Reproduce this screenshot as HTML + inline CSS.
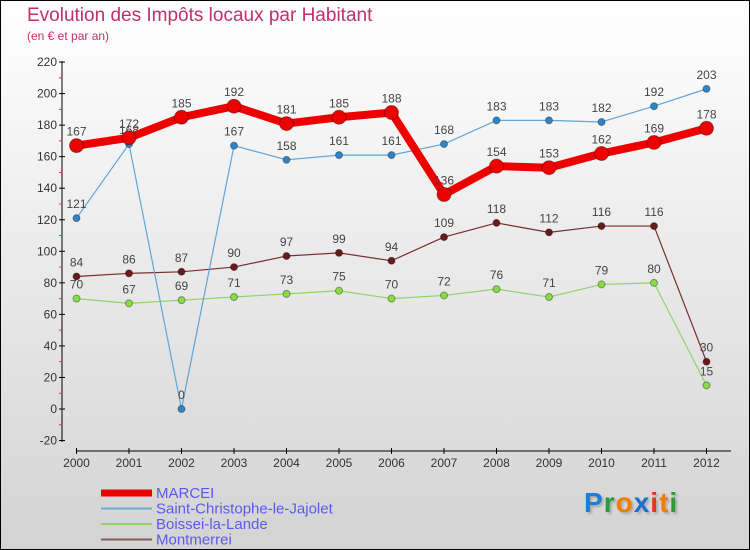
<!DOCTYPE html>
<html><head><meta charset="utf-8"><style>
body{margin:0}
#wrap{position:relative;width:748px;height:548px;border:1px solid #000;background:linear-gradient(#ffffff,#d3d3d3);font-family:"Liberation Sans",sans-serif;overflow:hidden}
.t{position:absolute;color:#c0306a}
</style></head><body>
<div id="wrap">
<div class="t" style="left:26px;top:4px;font-size:19px">Evolution des Impôts locaux par Habitant</div>
<div class="t" style="left:26px;top:28px;font-size:12px">(en € et par an)</div>
<svg id="svg" width="748" height="548" style="position:absolute;left:0;top:0"></svg>
<div style="position:absolute;left:583px;top:486px;font-size:28px;font-weight:bold;letter-spacing:1px;text-shadow:2px 2px 2px #aaa"><span style="color:#1a7fd4">P</span><span style="color:#2a9a3a">r</span><span style="color:#f07c00">o</span><span style="color:#1a6fd0">x</span><span style="color:#e8301e">i</span><span style="color:#f07c00">t</span><span style="color:#2a9a3a">i</span></div>
</div>
<script>
const years=[2000,2001,2002,2003,2004,2005,2006,2007,2008,2009,2010,2011,2012];
const marcei=[167,172,185,192,181,185,188,136,154,153,162,169,178];
const stchristophe=[121,168,0,167,158,161,161,168,183,183,182,192,203];
const boissei=[70,67,69,71,73,75,70,72,76,71,79,80,15];
const montmerrei=[84,86,87,90,97,99,94,109,118,112,116,116,30];
const yTicks=[-20,0,20,40,60,80,100,120,140,160,180,200,220];
const svg=document.getElementById('svg');const NS='http://www.w3.org/2000/svg';
const X=i=>75.5+i*52.5;const Y=v=>408-v*1.577;
function mk(tag,a,p){const e=document.createElementNS(NS,tag);for(const k in a)e.setAttribute(k,a[k]);(p||svg).appendChild(e);return e;}
// axes
let ax=mk('line',{x1:61,y1:60,x2:61,y2:441,stroke:'#000'});


let xa=mk('line',{x1:75,y1:450,x2:730,y2:450,stroke:'#000'});


yTicks.forEach((v,i)=>{
 mk('line',{x1:58,y1:Y(v),x2:64,y2:Y(v),stroke:'#000'});
 if(i<yTicks.length-1)mk('line',{x1:58,y1:Y(v+10),x2:61,y2:Y(v+10),stroke:'#e33'});
 const t=mk('text',{x:56,y:Y(v)+4,'text-anchor':'end','font-size':12,fill:'#333'});t.textContent=v;
 
 
});
years.forEach((y,i)=>{
 mk('line',{x1:X(i),y1:447,x2:X(i),y2:453,stroke:'#000'});
 const t=mk('text',{x:X(i),y:466,'text-anchor':'middle','font-size':12,fill:'#333'});t.textContent=y;
 
 
});
function series(vals,color,w,r,dot,name){
 const g=mk('g',{});
 
 
 mk('polyline',{points:vals.map((v,i)=>X(i)+','+Y(v)).join(' '),fill:'none',stroke:color,'stroke-width':w,'stroke-linejoin':'round'},g);
 vals.forEach((v,i)=>{
  const c=mk('circle',{cx:X(i),cy:Y(v),r:r,fill:dot,stroke:'rgba(0,0,0,0.35)','stroke-width':1},g);
  
  
  const t=mk('text',{x:X(i),y:Y(v)-10,'text-anchor':'middle','font-size':12,fill:'#444'},g);t.textContent=v;
 });
}
series(boissei,'#8fd46a',1.2,3.5,'#88dd44','series-boissei');
series(montmerrei,'#7a2e2e',1.2,3.5,'#6a1a1a','series-montmerrei');
series(stchristophe,'#5fa5d8',1.2,3.5,'#2e86c8','series-saint-christophe');
series(marcei,'#ee0000',8,7,'#ee0000','series-marcei');
// legend
const leg=[['MARCEI','#ee0000',7],['Saint-Christophe-le-Jajolet','#6fa8d0',2],['Boissei-la-Lande','#8fd46a',2],['Montmerrei','#8a5a5a',2]];
leg.forEach((l,i)=>{
 const y=492+i*15.5;
 const r=mk('line',{x1:100,y1:y,x2:151,y2:y,stroke:l[1],'stroke-width':l[2]});
 
 
 const t=mk('text',{x:155,y:y+5,'font-size':15,fill:'#5a5aee'});t.textContent=l[0];
 
 
});
</script>
</body></html>
